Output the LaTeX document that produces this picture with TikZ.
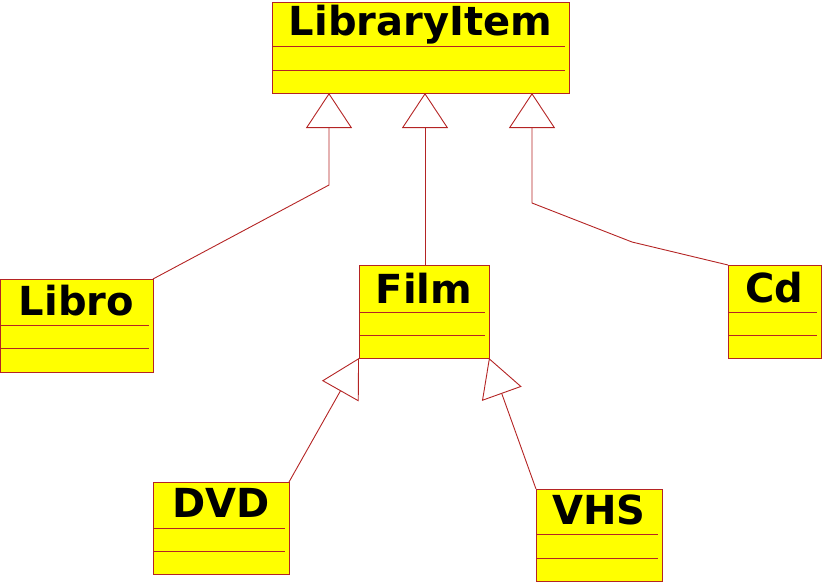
\documentclass[tikz,border=0pt]{standalone}
\usepackage{fontspec}
\setmainfont{DejaVu Sans}
\usetikzlibrary{arrows.meta,calc}
\definecolor{umlred}{RGB}{180,36,36}
\definecolor{umlyellow}{RGB}{255,255,0}
\begin{document}
\begin{tikzpicture}[x=1pt,y=-1pt,
  umlbox/.style={draw=umlred, fill=umlyellow, line width=0.9pt, inner sep=0pt, outer sep=0pt},
  umltitle/.style={anchor=base, inner sep=0pt, font=\fontsize{40}{40}\selectfont\bfseries},
  divline/.style={draw=umlred, line width=0.9pt},
  conn/.style={draw=umlred, line width=0.9pt},
  inherittop/.style={conn, -{Triangle[open, length=35pt, width=46pt, fill=white]}},
  inheritbot/.style={conn, -{Triangle[open, length=38pt, width=42pt, fill=white]}}
]
\useasboundingbox (0,0) rectangle (822,582);

% boxes
\node[umlbox, minimum width=297pt, minimum height=91pt] (lib) at (420.5,47.5) {};
\node[umlbox, minimum width=153pt, minimum height=93pt] (libro) at (76.5,325.5) {};
\node[umlbox, minimum width=130pt, minimum height=93pt] (film) at (424,311.5) {};
\node[umlbox, minimum width=93pt, minimum height=93pt] (cd) at (774.5,311.5) {};
\node[umlbox, minimum width=136pt, minimum height=92pt] (dvd) at (221,528) {};
\node[umlbox, minimum width=126pt, minimum height=92pt] (vhs) at (599,535) {};

% titles
\node[umltitle] (libT) at (420.5,35) {LibraryItem};
\node[umltitle] (libroT) at (76.5,315) {Libro};
\node[umltitle] (filmT) at (424,303) {Film};
\node[umltitle] (cdT) at (774.5,302) {Cd};
\node[umltitle] (dvdT) at (221,517) {DVD};
\node[umltitle] (vhsT) at (599,524) {VHS};

% compartment lines
\foreach \b/\a/\c in {lib/44/68, libro/46/69, film/47/70, cd/47/70, dvd/46/69, vhs/45/69}{
  \draw[divline] ($(\b.north west)+(1,\a)$) -- ($(\b.north east)+(-4,\a)$);
  \draw[divline] ($(\b.north west)+(1,\c)$) -- ($(\b.north east)+(-4,\c)$);
}

% connectors
\coordinate (aL) at ($(lib.south)+(-91.5,0)$);
\coordinate (aM) at ($(lib.south)+(4.5,0)$);
\coordinate (aR) at ($(lib.south)+(111.5,0)$);
\coordinate (bendL) at (aL |- 0,185);
\coordinate (bendR1) at (aR |- 0,203);
\coordinate (bendR2) at (632,242);

\draw[inherittop] (libro.north east) -- (bendL) -- (aL);
\draw[inherittop] (film.north -| aM) -- (aM);
\draw[inherittop] (cd.north west) -- (bendR2) -- (bendR1) -- (aR);
\draw[inheritbot] (dvd.north east) -- (film.south west);
\draw[inheritbot] (vhs.north west) -- (film.south east);
\end{tikzpicture}
\end{document}
